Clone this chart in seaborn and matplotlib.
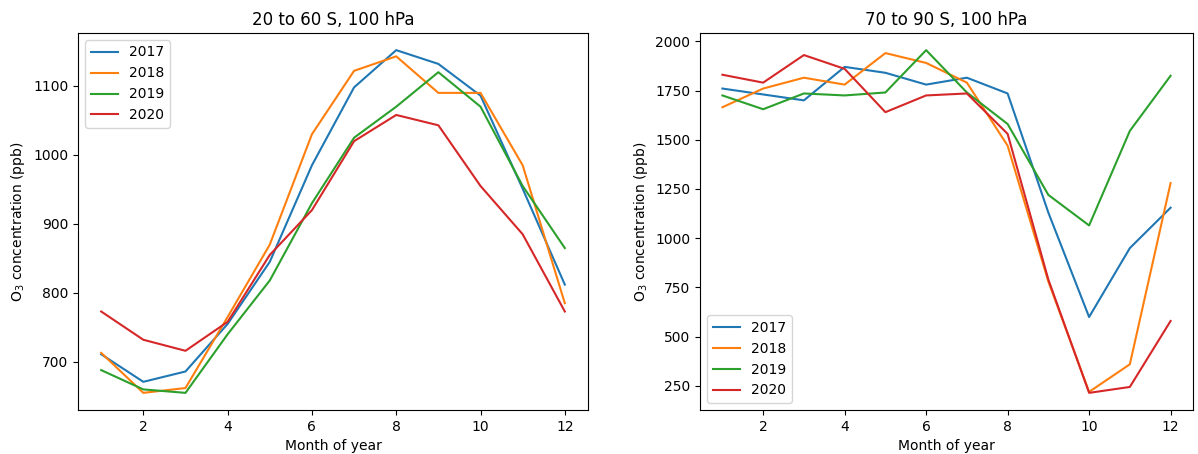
import seaborn as sns
import matplotlib.pyplot as plt
import pandas as pd

months = list(range(1, 13))
years = ["2017", "2018", "2019", "2020"]

# 20 to 60 S, 100 hPa
mid_2017 = [711, 671, 686, 755, 845, 985, 1098, 1152, 1132, 1086, 951, 812]
mid_2018 = [713, 655, 662, 765, 870, 1030, 1122, 1143, 1090, 1090, 985, 785]
mid_2019 = [688, 660, 655, 740, 818, 930, 1025, 1070, 1120, 1070, 955, 865]
mid_2020 = [773, 732, 716, 758, 855, 920, 1020, 1058, 1043, 955, 885, 773]

# 70 to 90 S, 100 hPa
pol_2017 = [1760, 1730, 1700, 1870, 1840, 1780, 1815, 1735, 1130, 600, 950, 1155]
pol_2018 = [1665, 1760, 1815, 1780, 1940, 1890, 1790, 1470, 780, 220, 360, 1280]
pol_2019 = [1725, 1655, 1735, 1725, 1740, 1955, 1740, 1580, 1220, 1065, 1545, 1825]
pol_2020 = [1830, 1790, 1930, 1860, 1640, 1725, 1735, 1530, 790, 215, 245, 580]


def to_long(series):
    rows = []
    for yr, vals in zip(years, series):
        for m, v in zip(months, vals):
            rows.append({"month": m, "o3": v, "year": yr})
    return pd.DataFrame(rows)


mid = to_long([mid_2017, mid_2018, mid_2019, mid_2020])
pol = to_long([pol_2017, pol_2018, pol_2019, pol_2020])

W, H = 1198, 454
fig = plt.figure(figsize=(W / 100, H / 100), dpi=100)
ax1 = fig.add_axes([78 / W, 44 / H, 510 / W, 377 / H])
ax2 = fig.add_axes([700 / W, 44 / H, 493 / W, 377 / H])

sns.lineplot(data=mid, x="month", y="o3", hue="year", palette="tab10", ax=ax1)
sns.lineplot(data=pol, x="month", y="o3", hue="year", palette="tab10", ax=ax2)

ax1.set_title("20 to 60 S, 100 hPa")
ax2.set_title("70 to 90 S, 100 hPa")
for ax in (ax1, ax2):
    ax.set_xlabel("Month of year")
    ax.set_ylabel("O$_3$ concentration (ppb)")
ax1.legend(loc="upper left")
ax2.legend(loc="lower left")

fig.savefig("out.png", dpi=100)
